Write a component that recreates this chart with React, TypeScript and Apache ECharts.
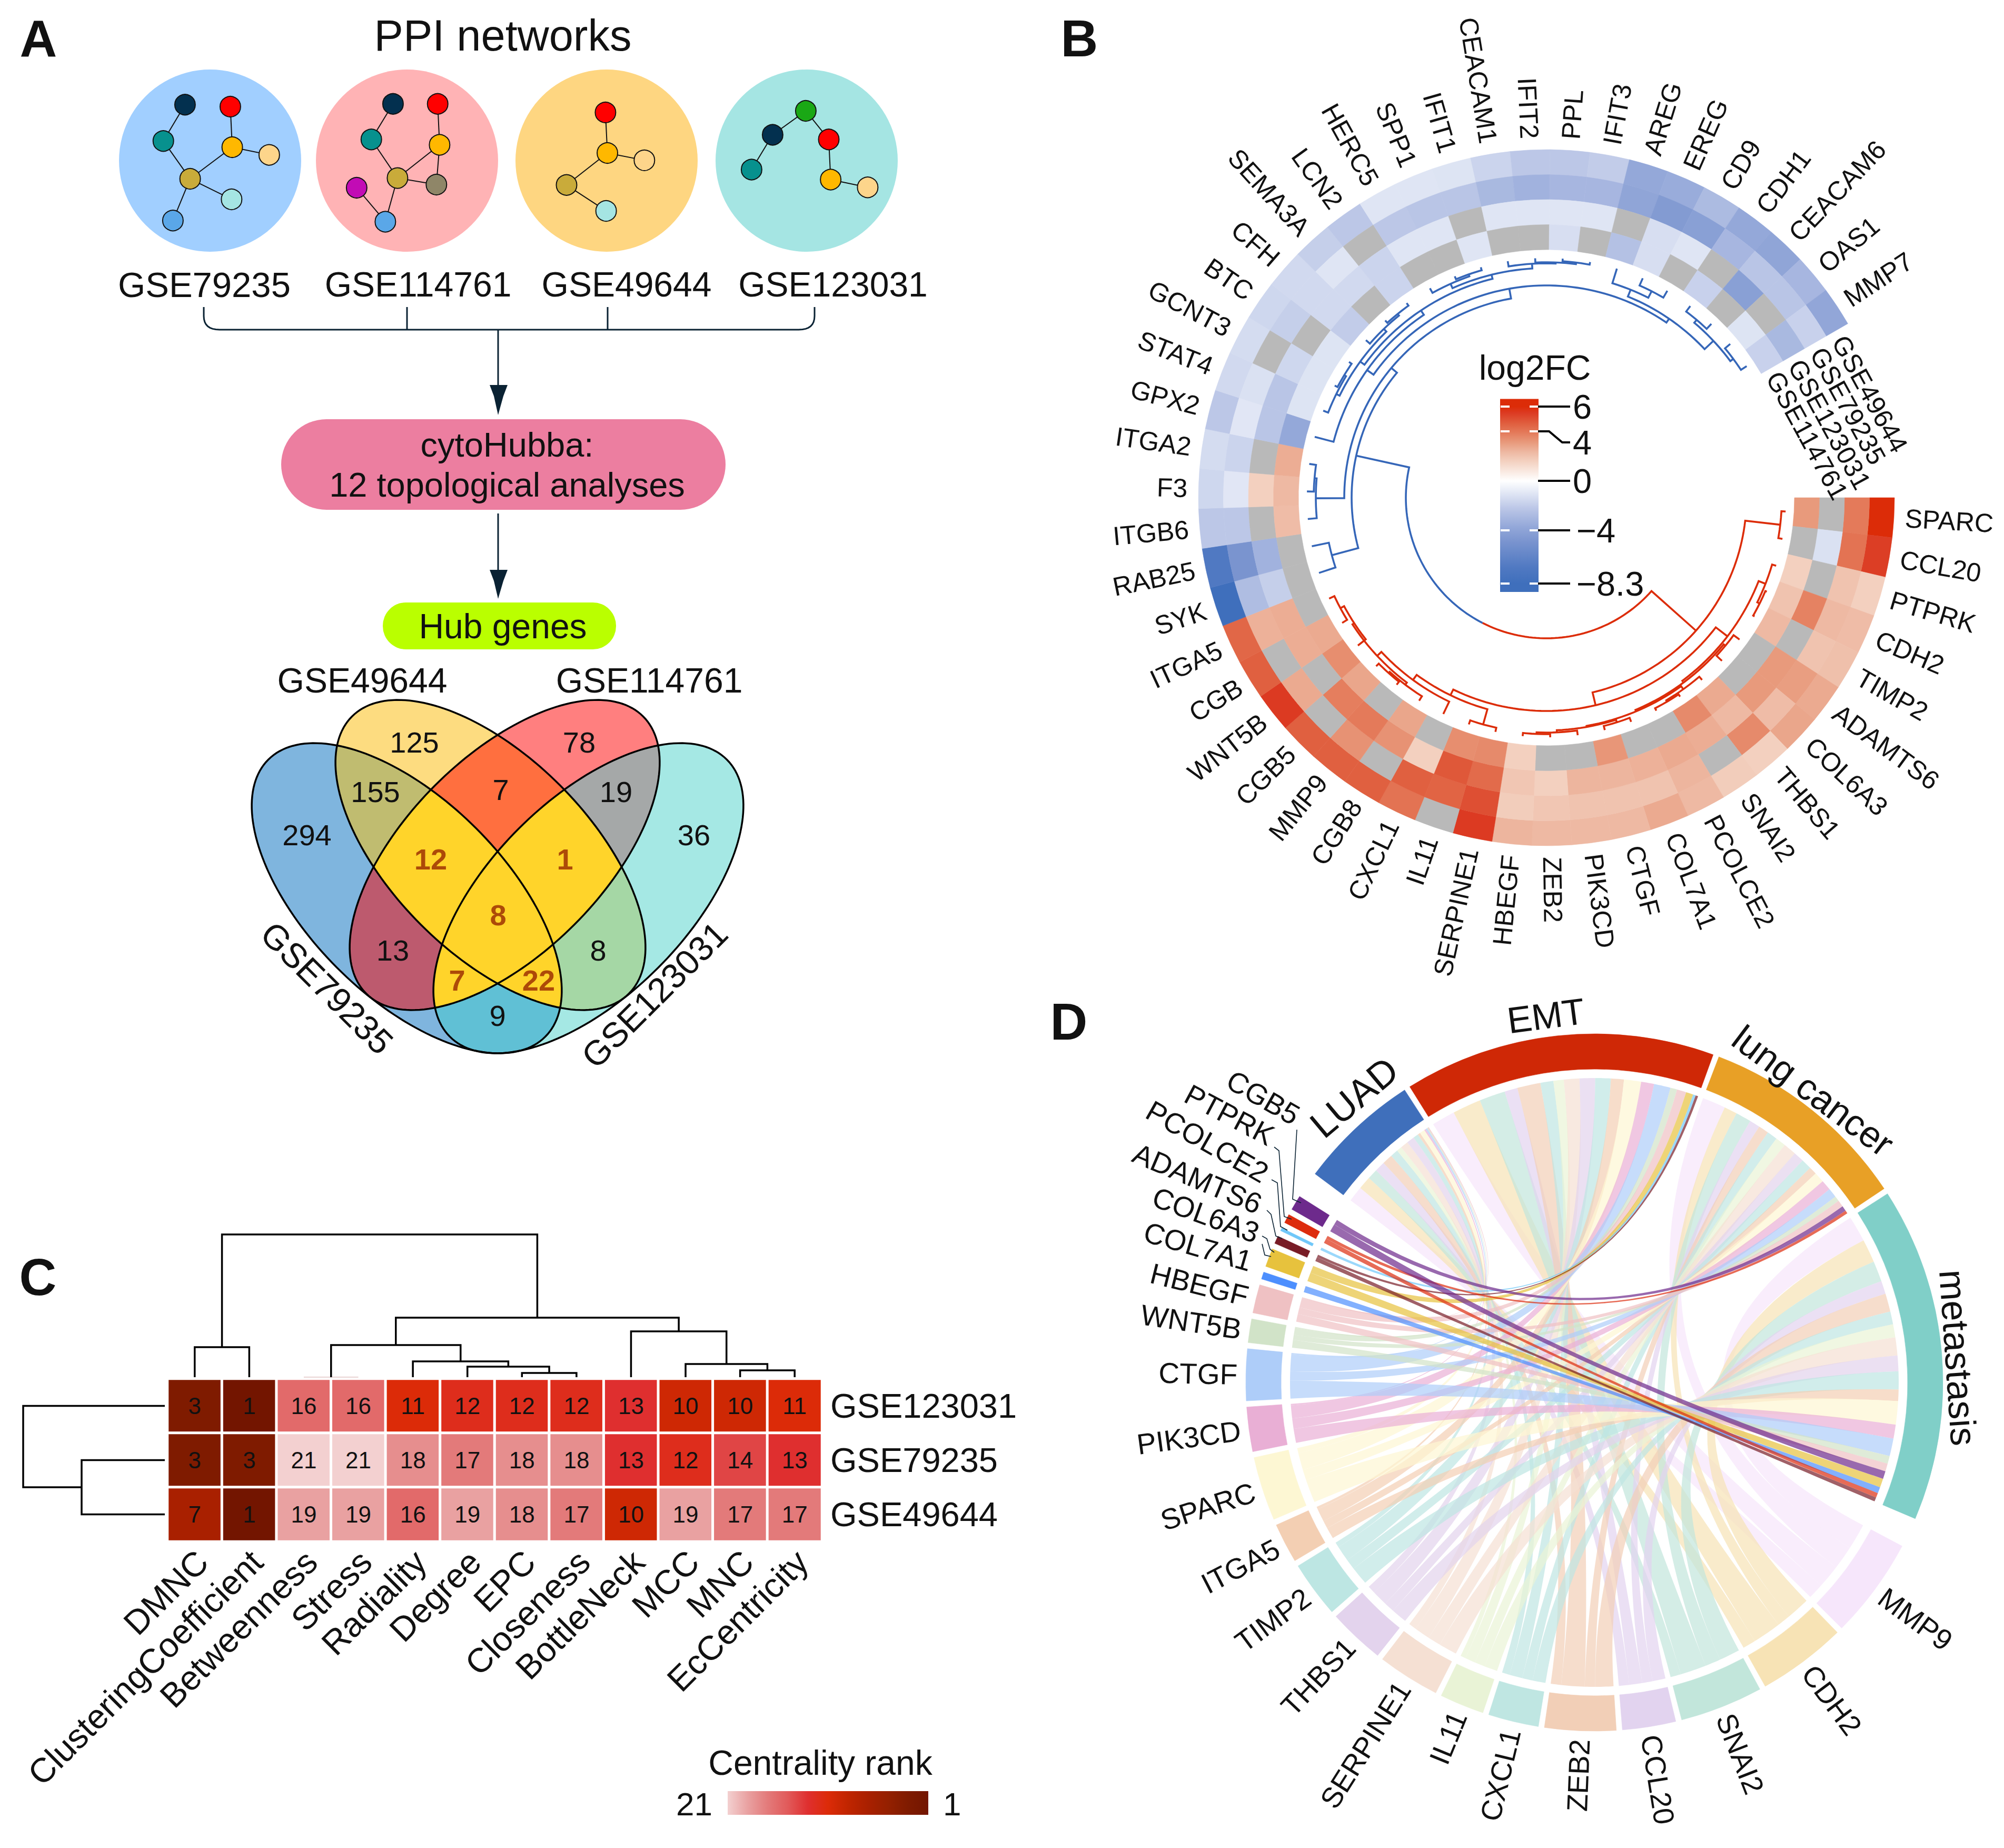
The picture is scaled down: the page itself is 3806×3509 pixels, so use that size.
import React, { useEffect, useRef } from "react";
import * as echarts from "echarts";

const FONT = '"Liberation Sans", Arial, sans-serif';
const D2R = Math.PI / 180;
const INK = "#111111";

/* ---------- DATA ---------- */
// Panel A
const datasetNames = ["GSE79235", "GSE114761", "GSE49644", "GSE123031"];
const vennMasks = [1, 2, 4, 8, 3, 5, 9, 6, 10, 12, 7, 11, 13, 14, 15];
const vennCounts = [294, 125, 78, 36, 155, 13, 9, 7, 8, 19, 12, 22, 7, 1, 8];
// Panel C
const rankColumns = ["DMNC", "ClusteringCoefficient", "Betweenness", "Stress", "Radiality", "Degree", "EPC", "Closeness", "BottleNeck", "MCC", "MNC", "EcCentricity"];
const rankRows = ["GSE123031", "GSE79235", "GSE49644"];
const ranksGSE123031 = [3, 1, 16, 16, 11, 12, 12, 12, 13, 10, 10, 11];
const ranksGSE79235 = [3, 3, 21, 21, 18, 17, 18, 18, 13, 12, 14, 13];
const ranksGSE49644 = [7, 1, 19, 19, 16, 19, 18, 17, 10, 19, 17, 17];
const columnTree = [2344, [2558, 0, 1], [2502, [2554, [2615, 2, 3], [2585, 4, [2595, 5, [2607, 6, 7]]]], [2528, 8, [2590, 9, [2602, 10, 11]]]]];
const rowTree = [44, 0, [155, 1, 2]];
// Panel B
const fcGenes = ["SPARC", "CCL20", "PTPRK", "CDH2", "TIMP2", "ADAMTS6", "COL6A3", "THBS1", "SNAI2", "PCOLCE2", "COL7A1", "CTGF", "PIK3CD", "ZEB2", "HBEGF", "SERPINE1", "IL11", "CXCL1", "CGB8", "MMP9", "CGB5", "WNT5B", "CGB", "ITGA5", "SYK", "RAB25", "ITGB6", "F3", "ITGA2", "GPX2", "STAT4", "GCNT3", "BTC", "CFH", "SEMA3A", "LCN2", "HERC5", "SPP1", "IFIT1", "CEACAM1", "IFIT2", "PPL", "IFIT3", "AREG", "EREG", "CD9", "CDH1", "CEACAM6", "OAS1", "MMP7"];
const fcGSE49644 = [6, 5.4, 1.6, 2.2, 2.1, 2.7, 2.8, 1.6, 1.7, 2.3, 2.7, 2.3, 2.3, 2.3, 2.4, 5.5, null, 4.1, 4.6, 4.6, 4.6, 5.5, 4.6, 4.4, -8.3, -7, -2.2, -1.6, -1.4, -2.2, -1.5, -1.4, -1.6, -1.5, -1.9, -2.2, -1.05, -1.05, -1.1, -1.7, -2.2, -2.2, -2, -3.7, -3.5, -2.8, -3.7, -3.9, -3, -3.8];
const fcGSE79235 = [3.9, 4.1, 2, 2.3, 2, 3, 2.2, 3.5, null, 2.4, 2, 2, 2, 1.9, 1.7, 5, 4.5, 4.6, null, 3.3, null, 2.7, null, 2.5, -2.7, -4.9, -2.2, -1, -1.7, -1, -1.2, null, -1.9, -1.5, -1.05, null, -2.2, -2.3, -2.3, -2.9, -3.2, -3, -3, -3.9, -4.5, -4.2, -3, -2.3, -2.3, -1.8];
const fcGSE123031 = [null, -1.2, null, 3.7, null, 3.1, 3.1, 2.3, 2.6, 2.7, 2.5, 2.4, 2.4, 1.6, 1.9, 4.3, 4.8, 1.6, 3.3, 3.9, 3.8, null, 2.6, 2.6, -1.9, -3.2, null, 1.6, null, -2.3, -2.3, -1.6, null, -1.5, -1.5, -1.7, -1.05, -1.05, null, -1.05, -1.05, -1.05, -1.05, null, -1.3, -1.05, null, -4.2, null, -2.9];
const fcGSE114761 = [3.1, null, 1.6, 2, 2.3, null, null, 2.7, 3.5, null, null, 3.2, null, null, 1.6, 3.5, 3.4, null, 2.8, null, 2.8, 3.4, 2.7, null, null, null, 2.2, 2.3, 2.6, -3.7, -1.1, -1.1, -1.1, -2, null, -1.7, null, null, -1.05, null, null, -1.3, null, -2.5, -1.3, null, -1.8, null, -1.1, -1.8];
const ringNames = ["GSE49644", "GSE79235", "GSE123031", "GSE114761"];
const redTree = [380, [447, 0, 1], [405, [433, [447, 2, [452, 3, 4]], [437, [441, 5, 6], [440, [447, 7, [450, 8, 9]], [442, [447, 10, 11], [446, 12, [449, 13, 14]]]]]], [417, [447, 15, 16], [429, 17, [440, [445, 18, [448, 19, 20]], [436, 21, [444, 22, 23]]]]]]];
const blueTree = [370, [422, 24, 25], [384, [438, 26, [442, 27, 28]], [403, [418, 29, [428, [438, [445, 30, [449, 31, 32]], [445, 33, [449, 34, 35]]], [436, [445, 36, [449, 37, 38]], [445, 39, [447, 40, [450, 41, 42]]]]]], [412, [426, 43, [440, 44, 45]], [435, [442, 46, 47], [442, 48, 49]]]]]];
const rootRadius = 267;
const fcTicks = [6, 4, 0, -4, -8.3];
// Panel D
const chordGenes = ["MMP9", "CDH2", "SNAI2", "CCL20", "ZEB2", "CXCL1", "IL11", "SERPINE1", "THBS1", "TIMP2", "ITGA5", "SPARC", "PIK3CD", "CTGF", "WNT5B", "HBEGF", "COL7A1", "COL6A3", "ADAMTS6", "PCOLCE2", "PTPRK", "CGB5"];
const chordTerms = ["LUAD", "EMT", "lung cancer", "metastasis"];
const linksLUAD = [3, 2.5, 2, 2, 2, 1.5, 1, 1.5, 1.5, 1, 0.5, 1, 0.3, 0.3, 0.2, 0.2, 0, 0, 0, 0, 0, 0];
const linksEMT = [4.5, 5.5, 5, 2.5, 4.5, 2.5, 2, 3, 3, 3, 2.5, 3.3, 2.5, 3.2, 1.3, 1.8, 0, 1.4, 0.5, 0.5, 0, 0];
const linksLung = [4.5, 2.5, 3, 2, 2, 2, 2, 2.5, 2, 2, 1.5, 2, 2, 1.8, 1, 1.3, 0, 0, 0, 0, 0.6, 1];
const linksMetastasis = [5, 4.5, 4, 2.5, 3.5, 2.5, 2.5, 3.5, 3, 3.5, 2.2, 4.5, 2.7, 3.4, 1.5, 1.5, 1.2, 1.7, 0.8, 0, 0.9, 1.5];

/* ---------- STYLES AND LAYOUT ---------- */
const rankScale = ["#731500", "#7f1b00", "#942000", "#a92000", "#c02500", "#dc2b08", "#df2f2f", "#e15a5a", "#e37a7a", "#e9a1a1", "#f3d0d0"];
const fcStops: [number, string][] = [[-8.3, "#3f6fbc"], [-7, "#5079c2"], [-4.9, "#7a94cf"], [-3.7, "#94a8d9"], [-2.2, "#bcc7e7"], [-1.05, "#dfe5f4"], [0, "#ffffff"], [1.6, "#f3d0bf"], [2.3, "#eeb9a3"], [3.1, "#e89a7c"], [3.9, "#e47a5a"], [4.6, "#e06040"], [5.5, "#dc3a22"], [6, "#dc2c08"]];
const NA_GRAY = "#b9b9b9";
const chordGeneColors = ["#f6e6fb", "#f7e3b5", "#c2e6db", "#e2d3ef", "#f2cfb7", "#bfe6e2", "#e9f3d6", "#f5e0d3", "#e3d3ed", "#bde6e3", "#f3cfb3", "#fdf7d3", "#e9afd5", "#aecdf9", "#d1e3c8", "#efc1c3", "#4d8ffe", "#e7c23d", "#781c26", "#6fc7f9", "#dd2c0e", "#6d2a8c"];
const chordTermColors = ["#3f6fbb", "#cf2806", "#e8a026", "#80cfc8"];
const termLabelPlace = [{ off: 3, r: 708, size: 72 }, { off: -1.5, r: 702, size: 70 }, { off: -1.7, r: 692, size: 70 }, { off: 1, r: 692, size: 70 }];
const vennFill: Record<number, string> = { 1: "#7fb5de", 2: "#fddc80", 4: "#ff7f7f", 8: "#a5e8e4", 3: "#c0bc70", 5: "#bd5a6e", 9: "#60c0d5", 6: "#ff6f3f", 10: "#a5d7a5", 12: "#a5a8a8", 7: "#ffd42a", 11: "#ffd42a", 13: "#ffd42a", 14: "#ffd42a", 15: "#ffd42a" };
const vennEllipses = [
  { cx: 772.5, cy: 1705.5, dir: 1 },
  { cx: 931.5, cy: 1623.5, dir: 1 },
  { cx: 958.5, cy: 1623.5, dir: -1 },
  { cx: 1117.5, cy: 1705.5, dir: -1 },
];
const vennLabelPos: Record<number, [number, number]> = { 1: [583, 1585], 2: [787, 1409], 4: [1100, 1409], 8: [1318, 1585], 3: [713, 1503], 5: [746, 1804], 9: [945, 1928], 6: [951, 1499], 10: [1136, 1804], 12: [1170, 1503], 7: [818, 1631], 11: [1023, 1861], 13: [868, 1861], 14: [1073, 1631], 15: [946, 1737] };
const FC_C = [2937, 945];
const FC_RINGS = [661, 613.5, 566, 518.5, 471];
const FC_SWEEP = 6.6;
const CH_C = [3028, 2625];
const CH_LINK_R = 578;
const CH_RING = [595, 662];
const HEAT = { left: 318, top: 2618, width: 1243, height: 309 };

const netColor = { dark: "#03304f", red: "#ff0000", teal: "#07918e", orange: "#ffb800", peach: "#fdd58b", must: "#c9ab3a", cyan: "#a5e5e3", blue: "#5aa7e8", gray: "#8f8668", mag: "#c20bb5", green: "#1aa815" };
const netBg = [{ x: 399, c: "#a1cfff" }, { x: 773, c: "#ffb3b5" }, { x: 1152, c: "#fed681" }, { x: 1532, c: "#a5e5e3" }];
const networks = [
  { nodes: [["dark", 290, 271], ["red", 361, 276], ["teal", 256, 365], ["orange", 364, 381], ["peach", 422, 401], ["must", 298, 463], ["cyan", 363, 516], ["blue", 271, 571]], links: [[0, 2], [2, 5], [5, 3], [1, 3], [3, 4], [5, 6], [5, 7]] },
  { nodes: [["dark", 616, 269], ["red", 686, 269], ["teal", 582, 361], ["orange", 689, 375], ["must", 623, 461], ["gray", 684, 478], ["mag", 559, 486], ["blue", 604, 574]], links: [[0, 2], [2, 4], [4, 3], [1, 3], [3, 5], [4, 5], [6, 7], [4, 7]] },
  { nodes: [["red", 949, 291], ["orange", 952, 396], ["peach", 1010, 415], ["must", 888, 479], ["cyan", 950, 546]], links: [[0, 1], [1, 2], [1, 3], [3, 4]] },
  { nodes: [["green", 1263, 287], ["dark", 1211, 349], ["red", 1299, 361], ["teal", 1178, 439], ["orange", 1302, 465], ["peach", 1360, 485]], links: [[0, 1], [0, 2], [1, 3], [2, 4], [4, 5]] },
];
const callouts: Record<string, { c: [number, number]; rot: number; lead: number[][] }> = {
  CGB5: { c: [2399, 2084], rot: 30, lead: [[2463, 2145], [2455, 2277], [2471, 2284]] },
  PTPRK: { c: [2335, 2117], rot: 28, lead: [[2420, 2178], [2429, 2185], [2439, 2310], [2453, 2315]] },
  PCOLCE2: { c: [2293, 2168], rot: 29.6, lead: [[2415, 2240], [2426, 2246], [2432, 2329], [2445, 2336]] },
  ADAMTS6: { c: [2274, 2238], rot: 23, lead: [[2406, 2298], [2414, 2306], [2423, 2347], [2435, 2352]] },
  COL6A3: { c: [2290, 2307], rot: 20, lead: [[2397, 2347], [2406, 2352], [2412, 2372], [2420, 2378]] },
  COL7A1: { c: [2275, 2367], rot: 16, lead: [[2397, 2362], [2402, 2383], [2414, 2386]] },
};

/* ---------- HELPERS ---------- */
const hex = (c: string) => [1, 3, 5].map((i) => parseInt(c.slice(i, i + 2), 16));
const mix = (a: string, b: string, t: number) => {
  const A = hex(a), B = hex(b);
  return "rgb(" + A.map((v, i) => Math.round(v + (B[i] - v) * t)).join(",") + ")";
};
const fcColor = (v: number | null) => {
  if (v == null) return NA_GRAY;
  if (v <= fcStops[0][0]) return fcStops[0][1];
  for (let i = 1; i < fcStops.length; i++) {
    if (v <= fcStops[i][0]) {
      const [a, ca] = fcStops[i - 1], [b, cb] = fcStops[i];
      return mix(ca, cb, (v - a) / (b - a));
    }
  }
  return fcStops[fcStops.length - 1][1];
};

const ellipsePolygon = (e: any) => {
  const pts: number[][] = [];
  const ax = Math.SQRT1_2 * e.dir, ay = Math.SQRT1_2;
  for (let i = 0; i < 180; i++) {
    const t = (i * 2 * Math.PI) / 180;
    const u = 372 * Math.cos(t), v = 187 * Math.sin(t);
    pts.push([e.cx + u * ax - v * ay, e.cy + u * ay + v * ax]);
  }
  return pts;
};
const clipConvex = (subject: number[][], clip: number[][]) => {
  let area = 0;
  clip.forEach((p, i) => { const q = clip[(i + 1) % clip.length]; area += p[0] * q[1] - q[0] * p[1]; });
  const sgn = Math.sign(area);
  let out = subject;
  for (let i = 0; i < clip.length && out.length; i++) {
    const A = clip[i], B = clip[(i + 1) % clip.length];
    const side = (p: number[]) => sgn * ((B[0] - A[0]) * (p[1] - A[1]) - (B[1] - A[1]) * (p[0] - A[0]));
    const input = out;
    out = [];
    input.forEach((P, j) => {
      const Q = input[(j + 1) % input.length];
      const sp = side(P), sq = side(Q);
      if (sp >= 0) out.push(P);
      if (sp >= 0 !== sq >= 0) {
        const t = sp / (sp - sq);
        out.push([P[0] + (Q[0] - P[0]) * t, P[1] + (Q[1] - P[1]) * t]);
      }
    });
  }
  return out;
};

type Poly = { pts: number[][]; fill?: string; stroke?: string; lw?: number };

const vennPolys = (): Poly[] => {
  const ells = vennEllipses.map(ellipsePolygon);
  const bits = (m: number) => [0, 1, 2, 3].filter((b) => m & (1 << b));
  const masks = [...vennMasks].sort((a, b) => bits(a).length - bits(b).length);
  const polys: Poly[] = masks.map((m) => {
    const ids = bits(m);
    let poly = ells[ids[0]];
    ids.slice(1).forEach((id) => { poly = clipConvex(poly, ells[id]); });
    return { pts: poly, fill: vennFill[m] };
  });
  ells.forEach((e) => polys.push({ pts: [...e, e[0]], stroke: "#000", lw: 3.5 }));
  return polys;
};

const columnX = (i: number) => HEAT.left + ((i + 0.5) * HEAT.width) / rankColumns.length;
const rowY = (i: number) => HEAT.top + ((i + 0.5) * HEAT.height) / rankRows.length;

const treeBrackets = (node: any, leafPos: (i: number) => number, leafH: number, out: number[][][], swap: boolean): { p: number; h: number } => {
  if (typeof node === "number") return { p: leafPos(node), h: leafH };
  const [h, a, b] = node;
  const L = treeBrackets(a, leafPos, leafH, out, swap), R = treeBrackets(b, leafPos, leafH, out, swap);
  const line = [[L.p, L.h], [L.p, h], [R.p, h], [R.p, R.h]];
  out.push(swap ? line.map(([p, v]) => [v, p]) : line);
  return { p: (L.p + R.p) / 2, h };
};

const roundCorner = (a: number[], c: number[], b: number[]) => {
  const pts: number[][] = [];
  for (let i = 0; i <= 8; i++) {
    const t = i / 8, u = 1 - t;
    pts.push([u * u * a[0] + 2 * u * t * c[0] + t * t * b[0], u * u * a[1] + 2 * u * t * c[1] + t * t * b[1]]);
  }
  return pts;
};

const pagePolys = (): Poly[] => {
  const dark = "#0a2233";
  const polys: Poly[] = [];
  polys.push({ pts: [[387, 583], ...roundCorner([387, 600], [387, 626], [417, 626]), ...roundCorner([1517, 626], [1547, 626], [1547, 600]), [1547, 583]], stroke: dark, lw: 3 });
  [773, 1154].forEach((x) => polys.push({ pts: [[x, 583], [x, 626]], stroke: dark, lw: 3 }));
  polys.push({ pts: [[946, 626], [946, 735]], stroke: dark, lw: 3 });
  polys.push({ pts: [[930, 731], [964, 731], [956, 752], [946, 788], [938, 752]], fill: dark });
  polys.push({ pts: [[946, 975], [946, 1085]], stroke: dark, lw: 3 });
  polys.push({ pts: [[930, 1082], [964, 1082], [956, 1103], [946, 1137], [938, 1103]], fill: dark });
  const col: number[][][] = [];
  treeBrackets(columnTree, columnX, 2615, col, false);
  col.forEach((pts) => {
    const flat = pts.every((p) => p[1] === pts[0][1]);
    polys.push(flat ? { pts, stroke: "#ecd9d9", lw: 2.5 } : { pts, stroke: "#000", lw: 3.5 });
  });
  const row: number[][][] = [];
  treeBrackets(rowTree, rowY, 313, row, true);
  row.forEach((pts) => polys.push({ pts, stroke: "#000", lw: 3.5 }));
  const tickY = (v: number) => 913 - 23.5 * v;
  fcTicks.forEach((v) => {
    const y = tickY(v);
    polys.push({ pts: v === 4 ? [[2921, y], [2942, y], [2967, 840], [2982, 840]] : [[2921, y], [2982, y]], stroke: "#000", lw: 4 });
    if (v !== 0) {
      polys.push({ pts: [[2850, y], [2867, y]], stroke: "#fff", lw: 4 });
      polys.push({ pts: [[2905, y], [2921, y]], stroke: "#fff", lw: 4 });
    }
  });
  Object.values(callouts).forEach((c) => polys.push({ pts: c.lead, stroke: dark, lw: 1.6 }));
  return polys;
};

const polyRender = (polys: Poly[]) => (params: any, api: any) => {
  const p = polys[params.dataIndex];
  const points = p.pts.map((q) => api.coord(q));
  return p.fill
    ? { type: "polygon", shape: { points }, style: { fill: p.fill } }
    : { type: "polyline", shape: { points }, style: { fill: "none", stroke: p.stroke, lineWidth: p.lw } };
};

const polarPoint = (api: any, r: number, a: number) => api.coord([r, ((a % 360) + 360) % 360]);
const polarRadius = (api: any, params: any, r: number) => {
  const p = polarPoint(api, r, 0);
  return Math.hypot(p[0] - params.coordSys.cx, p[1] - params.coordSys.cy);
};
const sector = (params: any, api: any, r0: number, r1: number, a0: number, a1: number, off: number, fill: string) => ({
  type: "sector",
  shape: { cx: params.coordSys.cx, cy: params.coordSys.cy, r0: polarRadius(api, params, r0), r: polarRadius(api, params, r1), startAngle: (a0 + off) * D2R, endAngle: (a1 + off) * D2R, clockwise: true },
  style: { fill, stroke: fill, lineWidth: 0.6 },
});
const radialText = (api: any, text: string, r: number, a: number, off: number, size: number) => {
  const e = a + off;
  const p = polarPoint(api, r, a);
  const right = Math.cos(e * D2R) > 0;
  return {
    type: "text", x: p[0], y: p[1], rotation: (right ? -e : 180 - e) * D2R,
    style: { text, fontSize: size, fontFamily: FONT, fill: INK, align: right ? "left" : "right", textAlign: right ? "left" : "right", verticalAlign: "middle", textVerticalAlign: "middle" },
  };
};

const fcLeafAngle = (i: number) => (i + 0.5) * FC_SWEEP;
const radialTree = (node: any, out: number[][][]): { a: number; r: number } => {
  if (typeof node === "number") return { a: fcLeafAngle(node), r: 455 };
  const [h, x, y] = node;
  const L = radialTree(x, out), R = radialTree(y, out);
  const arc: number[][] = [[L.r, L.a]];
  for (let a = L.a; a < R.a; a += 1.5) arc.push([h, a]);
  arc.push([h, R.a], [R.r, R.a]);
  out.push(arc);
  return { a: (L.a + R.a) / 2, r: h };
};
const arcPoints = (r: number, a0: number, a1: number) => {
  const pts: number[][] = [];
  for (let a = a0; a < a1; a += 1.5) pts.push([r, a]);
  pts.push([r, a1]);
  return pts;
};

const chordLayout = () => {
  const table = [linksLUAD, linksEMT, linksLung, linksMetastasis];
  const geneTotals = chordGenes.map((_, g) => table.reduce((s, t) => s + t[g], 0));
  const termTotals = table.map((t) => t.reduce((s, v) => s + v, 0));
  const total = geneTotals.reduce((s, v) => s + v, 0) + termTotals.reduce((s, v) => s + v, 0);
  const gaps = (chordGenes.length - 1) * 1 + 4.5 + (chordTerms.length - 1) * 1 + 5;
  const k = (360 - gaps) / total;
  let cur = 118;
  const genes = chordGenes.map((name, i) => {
    const a0 = cur, a1 = cur + geneTotals[i] * k;
    cur = a1 + 1;
    return { name, a0, a1, color: chordGeneColors[i] };
  });
  cur += 3.5;
  const terms = chordTerms.map((name, i) => {
    const a0 = cur, a1 = cur + termTotals[i] * k;
    cur = a1 + 1;
    return { name, a0, a1, color: chordTermColors[i] };
  });
  const sideOrder = chordGenes.map((_, i) => i);
  ["WNT5B", "HBEGF", "CGB5", "COL6A3", "COL7A1", "PCOLCE2", "PTPRK", "ADAMTS6"].forEach((n, i) => { sideOrder[14 + i] = chordGenes.indexOf(n); });
  const termStart: Record<string, number> = {};
  table.forEach((t, ti) => {
    let c = terms[ti].a0;
    sideOrder.forEach((g) => { termStart[ti + ":" + g] = c; c += t[g] * k; });
  });
  const ribbons: any[] = [];
  genes.forEach((g, gi) => {
    let c = g.a0;
    [3, 2, 1, 0].forEach((ti) => {
      const w = table[ti][gi] * k;
      if (w <= 0) return;
      const t0 = termStart[ti + ":" + gi];
      ribbons.push({ g0: c, g1: c + w, t0, t1: t0 + w, color: g.color, mid: (c + t0) / 2 });
      c += w;
    });
  });
  return { genes, terms, ribbons };
};

const text = (t: string, x: number, y: number, size: number, o: any = {}) => ({
  type: "text", x, y, rotation: (o.rot || 0) * D2R, z: 100, silent: true,
  style: { text: t, fontSize: size, lineHeight: o.lineHeight, fontFamily: FONT, fontWeight: o.weight || "normal", fill: o.fill || INK, align: o.align || "center", textAlign: o.align || "center", verticalAlign: "middle", textVerticalAlign: "middle" },
});

const buildOption = () => {
  const heatRows = [ranksGSE123031, ranksGSE79235, ranksGSE49644];
  const heatData = heatRows.flatMap((vals, r) => vals.map((v, c) => [c, r, v]));
  const venn = vennPolys();
  const page = pagePolys();

  const ringVals = [fcGSE49644, fcGSE79235, fcGSE123031, fcGSE114761];
  const cells = ringVals.flatMap((vals, ring) => vals.map((v, g) => ({ ring, g, v })));
  const redLines: number[][][] = [], blueLines: number[][][] = [];
  const redRoot = radialTree(redTree, redLines);
  const blueRoot = radialTree(blueTree, blueLines);
  const rootMid = (redRoot.a + blueRoot.a) / 2;
  redLines.push([[redRoot.r, redRoot.a], ...arcPoints(rootRadius, redRoot.a, rootMid)]);
  blueLines.push([...arcPoints(rootRadius, rootMid, blueRoot.a), [blueRoot.r, blueRoot.a]]);
  const dendro = [...redLines.map((pts) => ({ pts, c: "#dc2c08" })), ...blueLines.map((pts) => ({ pts, c: "#3566b8" }))];

  const chord = chordLayout();
  const chordSectors = [...chord.genes, ...chord.terms];
  const plainGenes = chord.genes.filter((g) => !callouts[g.name]);

  const netNodes: any[] = [], netLinks: any[] = [];
  networks.forEach((n, ni) => {
    const base = netNodes.length;
    n.nodes.forEach((d: any, i) => netNodes.push({
      name: "n" + ni + "-" + i,
      value: [d[1] * 1.2117, d[2] * 0.7334],
      itemStyle: { color: (netColor as any)[d[0]], borderColor: "#111", borderWidth: 2 },
    }));
    n.links.forEach(([a, b]) => netLinks.push({ source: base + a, target: base + b }));
  });

  const tickY = (v: number) => 913 - 23.5 * v;
  const barTop = 757.5, barH = 366.5;
  const fcGradient = [
    { offset: 0, color: fcColor(6) },
    ...fcStops.slice().reverse().map(([v]) => ({ offset: (tickY(v) - barTop) / barH, color: fcColor(v) })),
    { offset: 1, color: fcColor(-8.3) },
  ];

  const graphics: any[] = [
    ...netBg.map((c) => ({ type: "circle", z: 0, silent: true, shape: { cx: c.x, cy: 305, r: 173 }, style: { fill: c.c } })),
    { type: "rect", z: 1, silent: true, shape: { x: 534, y: 796, width: 844, height: 172, r: 86 }, style: { fill: "#ec7ea0" } },
    { type: "rect", z: 1, silent: true, shape: { x: 727, y: 1144, width: 443, height: 89, r: 44 }, style: { fill: "#baff00" } },
    { type: "rect", z: 1, silent: true, shape: { x: 1382, y: 3401, width: 381, height: 45 }, style: { fill: new echarts.graphic.LinearGradient(0, 0, 1, 0, rankScale.slice().reverse().map((color, i) => ({ offset: i / (rankScale.length - 1), color }))) } },
    { type: "rect", z: 1, silent: true, shape: { x: 2849, y: barTop, width: 73, height: barH }, style: { fill: new echarts.graphic.LinearGradient(0, 0, 0, 1, fcGradient) } },
    text("A", 73, 73, 98, { weight: "bold" }),
    text("B", 2050, 73, 98, { weight: "bold" }),
    text("C", 72, 2425, 98, { weight: "bold" }),
    text("D", 2030, 1940, 98, { weight: "bold" }),
    text("PPI networks", 955, 67, 83),
    text(datasetNames[0], 388, 540, 67),
    text(datasetNames[1], 794, 540, 66),
    text(datasetNames[2], 1190, 540, 66),
    text(datasetNames[3], 1582, 540, 66),
    text("cytoHubba:", 963, 844, 65),
    text("12 topological analyses", 963, 920, 65),
    text("Hub genes", 955, 1189, 66),
    text("GSE49644", 688, 1292, 66),
    text("GSE114761", 1233, 1292, 66),
    text("GSE79235", 621, 1876, 66, { rot: -45 }),
    text("GSE123031", 1243, 1889, 66, { rot: 45 }),
    ...vennMasks.map((m, i) => {
      const triple = [7, 11, 13, 14, 15].includes(m);
      return text(String(vennCounts[i]), vennLabelPos[m][0], vennLabelPos[m][1], 56, triple ? { weight: "bold", fill: "#ad4a08" } : {});
    }),
    text("Centrality rank", 1558, 3347, 66),
    text("21", 1353, 3425, 62, { align: "right" }),
    text("1", 1791, 3425, 62, { align: "left" }),
    text("log2FC", 2915, 698, 66),
    ...fcTicks.map((v) => {
      const label = v < 0 ? "\u2212" + Math.abs(v) : String(v);
      return text(label, v < 0 ? 2994 : 2987, v === 4 ? 840 : tickY(v), 65, { align: "left" });
    }),
    ...Object.entries(callouts).map(([name, c]) => text(name, c.c[0], c.c[1], 55, { rot: -c.rot })),
  ];

  return {
    animation: false,
    backgroundColor: "#ffffff",
    graphic: { elements: graphics },
    grid: [
      { ...HEAT, containLabel: false },
      { left: 0, top: 0, width: 3806, height: 3509, containLabel: false },
    ],
    xAxis: [
      { type: "category", gridIndex: 0, data: rankColumns, axisLine: { show: false }, axisTick: { show: false }, splitLine: { show: false }, axisLabel: { interval: 0, rotate: 45, margin: 42, padding: [0, -20, 0, 0], fontSize: 65, fontFamily: FONT, color: INK } },
      { type: "value", gridIndex: 1, min: 0, max: 3806, show: false },
    ],
    yAxis: [
      { type: "category", gridIndex: 0, data: rankRows, inverse: true, position: "right", axisLine: { show: false }, axisTick: { show: false }, splitLine: { show: false }, axisLabel: { margin: 16, fontSize: 65, fontFamily: FONT, color: INK } },
      { type: "value", gridIndex: 1, min: 0, max: 3509, inverse: true, show: false },
    ],
    polar: [
      { center: FC_C, radius: 700 },
      { center: CH_C, radius: 700 },
    ],
    angleAxis: [
      { polarIndex: 0, type: "value", min: 0, max: 360, startAngle: 0, clockwise: true, show: false },
      { polarIndex: 1, type: "value", min: 0, max: 360, startAngle: 90, clockwise: true, show: false },
    ],
    radiusAxis: [
      { polarIndex: 0, type: "value", min: 0, max: 700, show: false },
      { polarIndex: 1, type: "value", min: 0, max: 700, show: false },
    ],
    visualMap: { show: false, seriesIndex: 0, dimension: 2, min: 1, max: 21, inRange: { color: rankScale } },
    series: [
      {
        type: "heatmap", xAxisIndex: 0, yAxisIndex: 0, data: heatData, silent: true, z: 3,
        itemStyle: { borderColor: "#ffffff", borderWidth: 5 },
        label: { show: true, fontSize: 44, fontFamily: FONT, color: INK, formatter: (p: any) => String(p.value[2]) },
      },
      {
        type: "custom", coordinateSystem: "cartesian2d", xAxisIndex: 1, yAxisIndex: 1, silent: true, clip: false, z: 2,
        data: venn.map((p) => p.pts[0]), renderItem: polyRender(venn),
      },
      {
        type: "custom", coordinateSystem: "cartesian2d", xAxisIndex: 1, yAxisIndex: 1, silent: true, clip: false, z: 6,
        data: page.map((p) => p.pts[0]), renderItem: polyRender(page),
      },
      {
        type: "graph", coordinateSystem: "cartesian2d", xAxisIndex: 1, yAxisIndex: 1, layout: "none", silent: true, z: 5,
        symbol: "circle", symbolSize: 39, data: netNodes, links: netLinks,
        label: { show: false }, lineStyle: { color: "#111", width: 2, opacity: 1, curveness: 0 },
      },
      {
        type: "custom", coordinateSystem: "polar", polarIndex: 0, silent: true, clip: false, z: 2,
        data: cells.map((c) => [(FC_RINGS[c.ring] + FC_RINGS[c.ring + 1]) / 2, (c.g + 0.5) * FC_SWEEP]),
        renderItem: (params: any, api: any) => {
          const c = cells[params.dataIndex];
          return sector(params, api, FC_RINGS[c.ring + 1], FC_RINGS[c.ring], c.g * FC_SWEEP, (c.g + 1) * FC_SWEEP, 0, fcColor(c.v));
        },
      },
      {
        type: "custom", coordinateSystem: "polar", polarIndex: 0, silent: true, clip: false, z: 4,
        data: fcGenes.map((_, i) => [682, fcLeafAngle(i)]),
        renderItem: (params: any, api: any) => radialText(api, fcGenes[params.dataIndex], 682, fcLeafAngle(params.dataIndex), 0, 50),
      },
      {
        type: "custom", coordinateSystem: "polar", polarIndex: 0, silent: true, clip: false, z: 4,
        data: ringNames.map((_, i) => [(FC_RINGS[i] + FC_RINGS[i + 1]) / 2, 331]),
        renderItem: (params: any, api: any) => {
          const i = params.dataIndex;
          const p = polarPoint(api, (FC_RINGS[i] + FC_RINGS[i + 1]) / 2 - 4, 331.3);
          return {
            type: "text", x: p[0], y: p[1], rotation: -(331.3 + 90) * D2R,
            style: { text: ringNames[i], fontSize: 50, fontFamily: FONT, fill: INK, align: "left", textAlign: "left", verticalAlign: "middle", textVerticalAlign: "middle" },
          };
        },
      },
      {
        type: "custom", coordinateSystem: "polar", polarIndex: 0, silent: true, clip: false, z: 3,
        data: dendro.map((d) => d.pts[0]),
        renderItem: (params: any, api: any) => {
          const d = dendro[params.dataIndex];
          return { type: "polyline", shape: { points: d.pts.map((q) => polarPoint(api, q[0], q[1])) }, style: { fill: "none", stroke: d.c, lineWidth: 3.6 } };
        },
      },
      {
        type: "custom", coordinateSystem: "polar", polarIndex: 1, silent: true, clip: false, z: 2,
        data: chord.ribbons.map((r) => [CH_LINK_R, ((r.mid % 360) + 360) % 360]),
        renderItem: (params: any, api: any) => {
          const r = chord.ribbons[params.dataIndex];
          const cx = params.coordSys.cx, cy = params.coordSys.cy;
          const P = (a: number) => polarPoint(api, CH_LINK_R, a) as number[];
          const arc = (a0: number, a1: number) => {
            const pts: number[][] = [];
            const n = Math.max(2, Math.ceil((a1 - a0) / 0.5));
            for (let i = 0; i <= n; i++) pts.push(P(a0 + ((a1 - a0) * i) / n));
            return pts;
          };
          const side = (A: number[], B: number[]) => {
            const pts: number[][] = [];
            for (let i = 1; i < 40; i++) {
              const t = i / 40, u = 1 - t;
              pts.push([u * u * A[0] + 2 * u * t * cx + t * t * B[0], u * u * A[1] + 2 * u * t * cy + t * t * B[1]]);
            }
            return pts;
          };
          const points = [...arc(r.g0, r.g1), ...side(P(r.g1), P(r.t0)), ...arc(r.t0, r.t1), ...side(P(r.t1), P(r.g0))];
          return { type: "polygon", shape: { points }, style: { fill: r.color, opacity: 0.7 } };
        },
      },
      {
        type: "custom", coordinateSystem: "polar", polarIndex: 1, silent: true, clip: false, z: 3,
        data: chordSectors.map((s) => [CH_RING[1], ((s.a0 % 360) + 360) % 360]),
        renderItem: (params: any, api: any) => {
          const s = chordSectors[params.dataIndex];
          return sector(params, api, CH_RING[0], CH_RING[1], s.a0, s.a1, -90, s.color);
        },
      },
      {
        type: "custom", coordinateSystem: "polar", polarIndex: 1, silent: true, clip: false, z: 4,
        data: plainGenes.map((g) => [678, ((g.a0 + g.a1) / 2) % 360]),
        renderItem: (params: any, api: any) => {
          const g = plainGenes[params.dataIndex];
          return radialText(api, g.name, 678, (g.a0 + g.a1) / 2, -90, 55);
        },
      },
      {
        type: "custom", coordinateSystem: "polar", polarIndex: 1, silent: true, clip: false, z: 4,
        data: chord.terms.map((t) => [702, ((t.a0 + t.a1) / 2) % 360]),
        renderItem: (params: any, api: any) => {
          const i = params.dataIndex;
          const t = chord.terms[i];
          const place = termLabelPlace[i];
          const mid = (t.a0 + t.a1) / 2 + place.off;
          const p = polarPoint(api, place.r, mid);
          return {
            type: "text", x: p[0], y: p[1], rotation: -mid * D2R,
            style: { text: t.name, fontSize: place.size, fontFamily: FONT, fill: INK, align: "center", textAlign: "center", verticalAlign: "middle", textVerticalAlign: "middle" },
          };
        },
      },
    ],
  };
};

export default function App() {
  const ref = useRef<HTMLDivElement>(null);
  useEffect(() => {
    document.body.style.margin = "0";
    const chart = echarts.init(ref.current as HTMLDivElement, null, { renderer: "svg" });
    chart.setOption(buildOption() as any);
    return () => chart.dispose();
  }, []);
  return <div ref={ref} style={{ position: "absolute", left: 0, top: 0, width: 3806, height: 3509 }} />;
}
